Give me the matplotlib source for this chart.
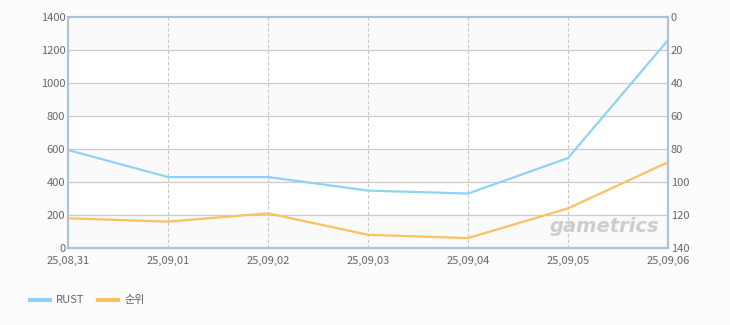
import numpy as np
import matplotlib.pyplot as plt

plt.rcParams['font.family'] = ['Noto Sans CJK KR', 'DejaVu Sans']

# data
dates = ['25,08,31', '25,09,01', '25,09,02', '25,09,03', '25,09,04', '25,09,05', '25,09,06']
rust = [594, 430, 430, 348, 330, 545, 1260]
rank = [122, 124, 119, 132, 134, 116, 88]

left_ticks = [0, 200, 400, 600, 800, 1000, 1200, 1400]
right_ticks = [0, 20, 40, 60, 80, 100, 120, 140]

blue = '#8fd3f3'
orange = '#fdc062'
frame = '#adc2d6'
txt = '#666666'

fig = plt.figure(figsize=(7.3, 3.25), dpi=100)
fig.patch.set_facecolor('#fcfcfc')
ax = fig.add_axes([68 / 730, 1 - 248 / 325, 600 / 730, 231 / 325])
ax.set_facecolor('white')

x = np.arange(len(dates))

# alternating bands
for i in range(0, len(left_ticks) - 1):
    if i % 2 == 0:
        ax.axhspan(left_ticks[i], left_ticks[i + 1], color='#fafafa', zorder=0, lw=0)
    else:
        ax.axhspan(left_ticks[i], left_ticks[i + 1], color='white', zorder=0, lw=0)

for v in left_ticks[1:-1]:
    ax.axhline(v, color='#cccccc', lw=0.9, zorder=1)
for xi in x[1:-1]:
    ax.axvline(xi, color='#c8c8c8', lw=0.8, ls=(0, (3, 2)), zorder=1)

ax.plot(x, rust, color=blue, lw=1.6, zorder=3, solid_capstyle='round')
ax.set_xlim(0, len(dates) - 1)
ax.set_ylim(0, 1400)
ax.set_yticks(left_ticks)
ax.set_xticks(x)
ax.set_xticklabels(dates)

ax2 = ax.twinx()
ax2.plot(x, rank, color=orange, lw=1.6, zorder=3, solid_capstyle='round')
ax2.set_ylim(140, 0)
ax2.set_yticks(right_ticks)

for a in (ax, ax2):
    for s in a.spines.values():
        s.set_color(frame)
        s.set_linewidth(1.5)
    a.tick_params(length=0, labelsize=8, colors=txt, pad=2)
ax.tick_params(axis='x', pad=6)

ax.text(0.985, 0.05, 'gametrics', transform=ax.transAxes, ha='right', va='bottom',
        fontsize=14, fontweight='bold', style='italic', color='#cdcdcd', zorder=2,
        family='DejaVu Sans')

# legend
fig.lines.append(plt.Line2D([30 / 730, 50 / 730], [1 - 300 / 325] * 2, color=blue, lw=3,
                            transform=fig.transFigure))
fig.text(56 / 730, 1 - 300 / 325, 'RUST', fontsize=8, color=txt, va='center')
fig.lines.append(plt.Line2D([98 / 730, 118 / 730], [1 - 300 / 325] * 2, color=orange, lw=3,
                            transform=fig.transFigure))
fig.text(124 / 730, 1 - 300 / 325, '순위', fontsize=8, color=txt, va='center')

fig.savefig('out.png', dpi=100, facecolor=fig.get_facecolor())
